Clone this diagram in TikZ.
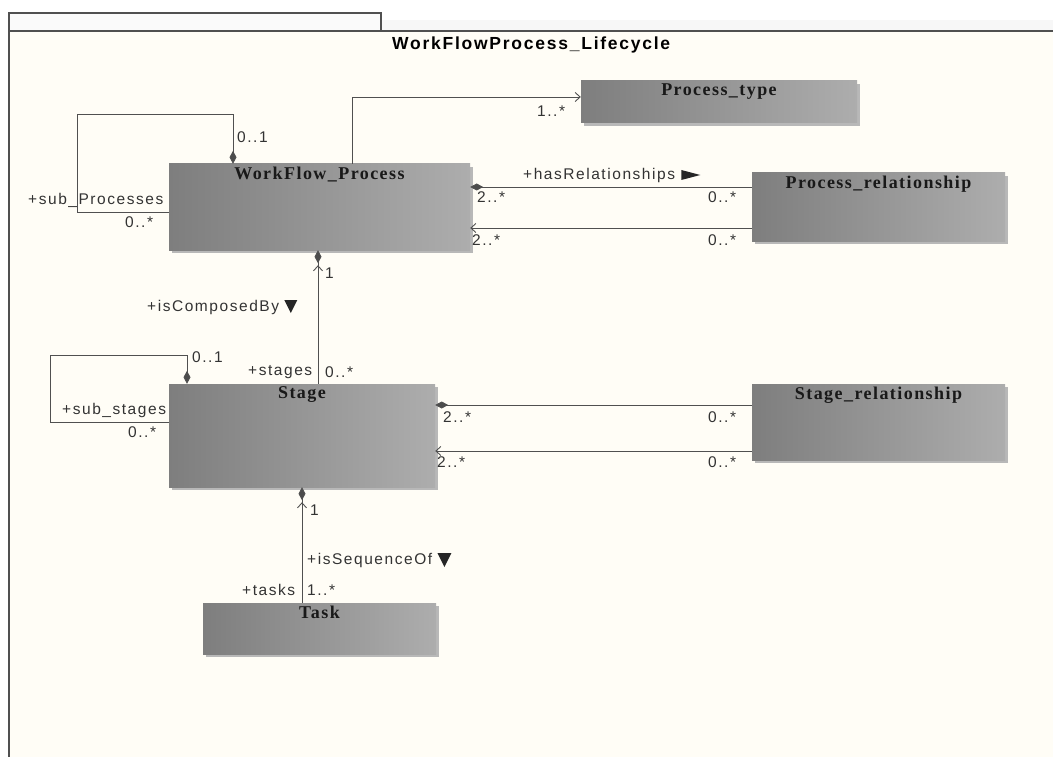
\documentclass[tikz,border=0pt]{standalone}
\usepackage{fontspec}
\setmainfont{Liberation Serif}
\newfontfamily\lblfont[LetterSpace=10]{Liberation Sans}
\newfontfamily\clsfont[LetterSpace=8]{Liberation Serif}
\usetikzlibrary{calc,arrows.meta,positioning,shadows}

\definecolor{boxL}{HTML}{7E7E7E}
\definecolor{boxR}{HTML}{ADADAD}
\definecolor{boxS}{HTML}{B8B8B8}
\definecolor{paper}{HTML}{FFFDF6}
\definecolor{ink}{HTML}{505050}

\tikzset{
  cls/.style={left color=boxL, right color=boxR, inner sep=0pt,
    drop shadow={shadow xshift=3pt, shadow yshift=-3pt, fill=boxS, opacity=1}},
  clsname/.style={font=\clsfont\bfseries\fontsize{18}{20}\selectfont,
    text=black!90, inner sep=0pt},
  lbl/.style={font=\lblfont\fontsize{15.5}{17}\selectfont, text=black!80,
    inner sep=0pt, anchor=west},
  assoc/.style={draw=ink, line width=0.9pt},
  compo/.style={assoc, -{Diamond[length=13pt,width=7pt,fill=black!70]}},
  nav/.style={assoc, -{Straight Barb[length=5pt,width=9pt]}},
  compnav/.style={assoc, -{Straight Barb[length=5pt,width=9pt,sep=2pt]
    Diamond[length=13pt,width=7pt,fill=black!70]}},
  tri/.style={fill=black!85}
}

\begin{document}
\begin{tikzpicture}[x=1pt, y=-1pt]
  \useasboundingbox (0,0) rectangle (1053,757);
  % package frame
  \fill[white] (0,0) rectangle (1053,757);
  \fill[black!3] (381,20) rectangle (1053,31);
  \fill[paper] (9,31) rectangle (1053,757);
  \fill[black!2] (9,13) rectangle (381,31);
  \draw[ink, line width=1.2pt] (9,757) -- (9,13) -- (381,13) -- (381,31);
  \draw[ink, line width=1.2pt] (9,31) -- (1053,31);
  \node[font=\lblfont\bfseries\fontsize{17.5}{19}\selectfont, anchor=west,
    inner sep=0pt] (pkg) at (392,45) {WorkFlowProcess\_Lifecycle};

  % classes
  \node[cls, minimum width=301pt, minimum height=86pt] (wfp) at (319.5,207) {};
  \node[cls, minimum width=276pt, minimum height=42pt] (ptype) at (719,102) {};
  \node[cls, minimum width=253pt, minimum height=68pt] (prel) at (878.5,207) {};
  \node[cls, minimum width=266pt, minimum height=103pt] (stage) at (302,435.5) {};
  \node[cls, minimum width=253pt, minimum height=76pt] (srel) at (878.5,422) {};
  \node[cls, minimum width=233pt, minimum height=51pt] (task) at (319.5,628.5) {};
  \node[clsname] (wfp-n) at ([yshift=-11pt]wfp.north) {WorkFlow\_Process};
  \node[clsname] (ptype-n) at ([yshift=-11pt]ptype.north) {Process\_type};
  \node[clsname] (prel-n) at ([yshift=-11pt]prel.north) {Process\_relationship};
  \node[clsname] (stage-n) at ([yshift=-11pt]stage.north) {Stage};
  \node[clsname] (srel-n) at ([yshift=-11pt]srel.north) {Stage\_relationship};
  \node[clsname] (task-n) at ([yshift=-10pt]task.north) {Task};

  % associations
  \draw[compo] (wfp.west |- 0,212) -| (77,114) -| (wfp.north -| 233,0);
  \draw[nav] (wfp.north -| 352,0) |- (ptype.west |- 0,97);
  \draw[compo] (prel.west |- 0,187) -- (wfp.east |- 0,187);
  \draw[nav] (prel.west |- 0,228) -- (wfp.east |- 0,228);
  \draw[compnav] (stage.north -| 318,0) -- (wfp.south -| 318,0);
  \draw[compo] (stage.west |- 0,422) -| (50,355) -| (stage.north -| 187,0);
  \draw[compo] (srel.west |- 0,405) -- (stage.east |- 0,405);
  \draw[nav] (srel.west |- 0,451) -- (stage.east |- 0,451);
  \draw[compnav] (task.north -| 302,0) -- (stage.south -| 302,0);

  % roles and multiplicities
  \node[lbl] (wfp-self1) at (237,137) {0..1};
  \node[lbl] (wfp-role) at (28,200) {+sub\_Processes};
  \node[lbl] (wfp-self2) at (125,222) {0..*};
  \node[lbl] (ptype-m) at (537,111) {1..*};
  \node[lbl] (prel-role) at (523,175) {+hasRelationships};
  \fill[tri] ($(prel-role.east)+(6,-5)$) -- ++(19,5) -- ++(-19,5) -- cycle;
  \node[lbl] (prel-m1) at (477,197) {2..*};
  \node[lbl] (prel-m2) at (708,197) {0..*};
  \node[lbl] (prel-m3) at (472,240) {2..*};
  \node[lbl] (prel-m4) at (708,240) {0..*};
  \node[lbl] (stage-m1) at (325,273) {1};
  \node[lbl] (stage-via) at (147,307) {+isComposedBy};
  \fill[tri] ($(stage-via.east)+(5,-7)$) -- ++(13,0) -- ++(-6.5,13) -- cycle;
  \node[lbl] (stage-self1) at (192,357) {0..1};
  \node[lbl] (stage-role) at (248,372) {+stages};
  \node[lbl] (stage-m2) at (325,372) {0..*};
  \node[lbl] (stage-sub) at (62,410) {+sub\_stages};
  \node[lbl] (stage-self2) at (128,432) {0..*};
  \node[lbl] (srel-m1) at (443,417) {2..*};
  \node[lbl] (srel-m2) at (708,417) {0..*};
  \node[lbl] (srel-m3) at (437,462) {2..*};
  \node[lbl] (srel-m4) at (708,462) {0..*};
  \node[lbl] (task-m1) at (310,510) {1};
  \node[lbl] (task-via) at (307,560) {+isSequenceOf};
  \fill[tri] ($(task-via.east)+(5,-7)$) -- ++(14,0) -- ++(-7,14) -- cycle;
  \node[lbl] (task-role) at (242,590) {+tasks};
  \node[lbl] (task-m2) at (307,590) {1..*};
\end{tikzpicture}
\end{document}
